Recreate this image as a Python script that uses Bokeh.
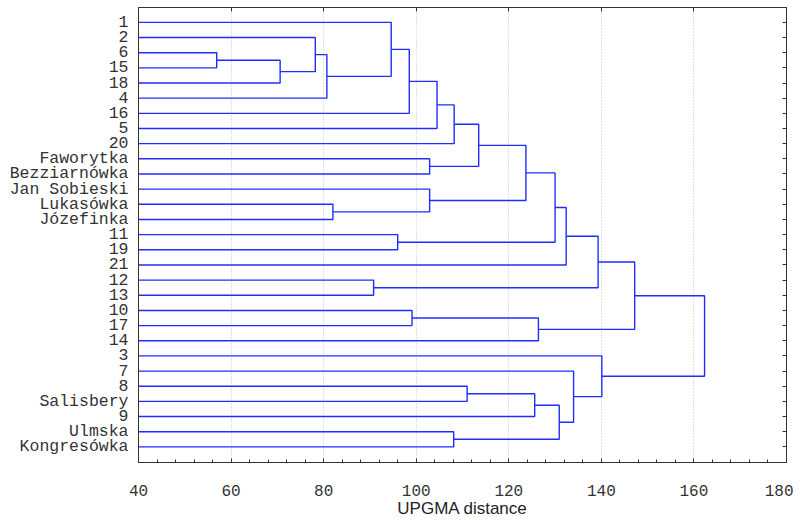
from bokeh.plotting import figure
from bokeh.models import Range1d, FixedTicker, LinearAxis, CustomLabelingPolicy
from bokeh.embed import file_html
from bokeh.resources import INLINE

# ---- data -------------------------------------------------------------
leaf_labels = ["1", "2", "6", "15", "18", "4", "16", "5", "20",
               "Faworytka", "Bezziarnówka", "Jan Sobieski", "Lukasówka",
               "Józefinka", "11", "19", "21", "12", "13", "10", "17", "14",
               "3", "7", "8", "Salisbery", "9", "Ulmska", "Kongresówka"]

# linkage (scipy style: new cluster ids start at len(leaf_labels))
merge_left = [2, 29, 1, 31, 0, 33, 34, 35, 9, 36, 12, 11, 38, 14, 41, 43,
              17, 44, 19, 47, 46, 24, 50, 27, 51, 23, 22, 49]
merge_right = [3, 4, 30, 5, 32, 6, 7, 8, 10, 37, 13, 39, 40, 15, 42, 16,
               18, 45, 20, 21, 48, 25, 26, 28, 52, 53, 54, 55]
merge_height = [56.9, 70.6, 78.2, 80.7, 94.6, 98.5, 104.5, 108.2, 102.9,
                113.5, 82.0, 102.9, 123.7, 96.0, 130.0, 132.4, 90.8, 139.3,
                99.1, 126.4, 147.2, 111.0, 125.6, 108.1, 130.9, 134.0,
                140.1, 162.3]

x_ticks = [40, 60, 80, 100, 120, 140, 160, 180]
x_minor = list(range(40, 181, 4))

# ---- dendrogram geometry from linkage --------------------------------
n = len(leaf_labels)
pos = {i: float(i) for i in range(n)}
hgt = {i: 0.0 for i in range(n)}
xs, ys = [], []
for k, (a, b, h) in enumerate(zip(merge_left, merge_right, merge_height)):
    xs.append([hgt[a], h, h, hgt[b]])
    ys.append([pos[a], pos[a], pos[b], pos[b]])
    pos[n + k] = (pos[a] + pos[b]) / 2.0
    hgt[n + k] = h

# ---- figure -----------------------------------------------------------
p = figure(width=793, height=520, output_backend="svg", toolbar_location=None,
           x_range=Range1d(40, 180), y_range=Range1d(29.03, -0.98),
           min_border_left=138, min_border_right=7, min_border_top=7,
           min_border_bottom=0)
p.background_fill_color = "white"
p.border_fill_color = "white"
p.outline_line_color = "#333333"
p.outline_line_width = 1

p.multi_line(xs, ys, line_color="#1f2eff", line_width=1.4)

mono = "Liberation Mono"
# bottom axis
xa = p.xaxis[0]
xa.ticker = FixedTicker(ticks=x_ticks, minor_ticks=x_minor)
xa.major_tick_in = 4
xa.major_tick_out = 0
xa.minor_tick_in = 3
xa.minor_tick_out = 0
xa.axis_line_color = "#333333"
xa.major_tick_line_color = "#333333"
xa.minor_tick_line_color = "#333333"
xa.major_label_text_font = mono
xa.major_label_text_font_size = "16px"
xa.major_label_text_color = "#333333"
xa.major_label_standoff = 22
xa.axis_label = "UPGMA distance"
xa.axis_label_text_font = "Liberation Sans"
xa.axis_label_text_font_style = "normal"
xa.axis_label_text_font_size = "17px"
xa.axis_label_text_color = "#222222"
xa.axis_label_standoff = 0

# left axis
ya = p.yaxis[0]
ya.ticker = FixedTicker(ticks=list(range(n)))
ya.major_label_overrides = {i: lab for i, lab in enumerate(leaf_labels)}
ya.major_tick_in = 0
ya.major_tick_out = 0
ya.minor_tick_line_color = None
ya.axis_line_color = "#333333"
ya.major_label_text_font = mono
ya.major_label_text_font_size = "16.5px"
ya.major_label_text_color = "#333333"
ya.major_label_standoff = 10

# top & right axes: ticks only, labels filtered out
hide_code = """
const ids = Array.from(indices);
for (const i of ids) { indices.unset(i); }
return indices;
"""
top = LinearAxis(ticker=FixedTicker(ticks=x_ticks), major_tick_in=4,
                 major_tick_out=0, minor_tick_line_color=None,
                 major_label_overrides={t: "" for t in x_ticks},
                 major_label_policy=CustomLabelingPolicy(code=hide_code),
                 major_label_standoff=0,
                 axis_line_color="#333333", major_tick_line_color="#333333")
p.add_layout(top, "above")
right = LinearAxis(ticker=FixedTicker(ticks=list(range(n))),
                   major_tick_in=4, major_tick_out=0, minor_tick_line_color=None,
                   major_label_overrides={i: "" for i in range(n)},
                   major_label_policy=CustomLabelingPolicy(code=hide_code),
                   major_label_standoff=0,
                   axis_line_color="#333333", major_tick_line_color="#333333")
p.add_layout(right, "right")

p.ygrid.grid_line_color = None
p.xgrid.ticker = FixedTicker(ticks=x_ticks)
p.xgrid.grid_line_color = "#c0c0c0"
p.xgrid.grid_line_dash = "1 2"
p.xgrid.grid_line_width = 1

open("out.html", "w").write(file_html(p, INLINE))
